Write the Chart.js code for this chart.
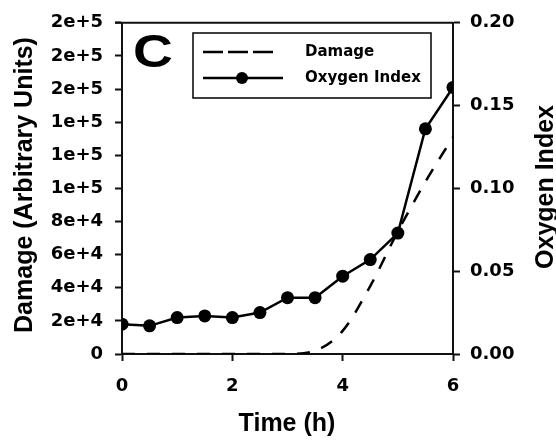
<!DOCTYPE html>
<html>
<head>
<meta charset="utf-8">
<script src="https://cdn.jsdelivr.net/npm/chart.js@4"></script>
<style>
  body { margin: 0; background: #fff; }
  canvas { display: block; }
</style>
</head>
<body>
<canvas id="chart" width="556" height="440"></canvas>
<script>
const times = [0, 0.5, 1, 1.5, 2, 2.5, 3, 3.5, 4, 4.5, 5, 5.5, 6];
const damage = [0, 0, 0, 0, 0, 0, 0, 2000, 14000, 41000, 74000, 104000, 131000];
const oxygenIndex = [0.018, 0.017, 0.022, 0.023, 0.022, 0.025, 0.034, 0.034, 0.047, 0.057, 0.073, 0.136, 0.161];
const damageTicks = ["0", "2e+4", "4e+4", "6e+4", "8e+4", "1e+5", "1e+5", "1e+5", "2e+5", "2e+5", "2e+5"];
const seriesLabels = ["Damage", "Oxygen Index"];

const tickFont = { family: "DejaVu Sans", weight: "bold", size: 18 };
const titleFont = "bold 25px 'Liberation Sans', Arial, sans-serif";

// frame line, panel letter, legend and axis titles
const extras = {
    id: "extras",
    afterDraw(chart) {
        const ctx = chart.ctx;
        const a = chart.chartArea;
        ctx.save();

        ctx.strokeStyle = "#111";
        ctx.lineWidth = 2;
        ctx.beginPath();
        ctx.moveTo(a.left - 7, a.top);
        ctx.lineTo(a.right, a.top);
        ctx.stroke();

        ctx.fillStyle = "#000";
        ctx.textAlign = "center";
        ctx.textBaseline = "middle";
        ctx.save();
        ctx.translate(153, 52);
        ctx.scale(1.2, 1);
        ctx.font = "bold 46px 'Liberation Sans', Arial, sans-serif";
        ctx.fillText("C", 0, 2);
        ctx.restore();

        // legend
        ctx.lineWidth = 1.5;
        ctx.strokeStyle = "#000";
        ctx.strokeRect(193, 33, 238, 65);
        ctx.font = "bold 15px 'DejaVu Sans', sans-serif";
        ctx.textAlign = "left";
        const ds = chart.data.datasets;
        const rows = [52, 78];
        rows.forEach((y, i) => {
            ctx.lineWidth = ds[i].borderWidth;
            ctx.setLineDash(i === 0 ? [20, 5] : []);
            ctx.beginPath();
            ctx.moveTo(203, y);
            ctx.lineTo(i === 0 ? 278 : 283, y);
            ctx.stroke();
            ctx.setLineDash([]);
            if (i === 1) {
                ctx.beginPath();
                ctx.arc(242, y, 6, 0, Math.PI * 2);
                ctx.fill();
            }
            ctx.fillText(ds[i].label, 305, y);
        });

        // axis titles
        ctx.font = titleFont;
        ctx.textAlign = "center";
        ctx.fillText("Time (h)", 287, 424);
        ctx.save();
        ctx.translate(25, 185);
        ctx.rotate(-Math.PI / 2);
        ctx.fillText("Damage (Arbitrary Units)", 0, 0);
        ctx.restore();
        ctx.save();
        ctx.translate(546, 187);
        ctx.rotate(-Math.PI / 2);
        ctx.fillText("Oxygen Index", 0, 0);
        ctx.restore();

        ctx.restore();
    }
};

const axisGrid = { drawOnChartArea: false, tickLength: 7, color: "#111", tickWidth: 2 };
const axisBorder = { color: "#111", width: 2 };

new Chart(document.getElementById("chart"), {
    type: "line",
    data: {
        datasets: [
            {
                label: seriesLabels[0],
                data: times.map((t, i) => ({ x: t, y: damage[i] })),
                yAxisID: "y",
                borderColor: "#000",
                borderWidth: 2.5,
                borderDash: [13, 12],
                pointRadius: 0,
                cubicInterpolationMode: "monotone",
                fill: false
            },
            {
                label: seriesLabels[1],
                data: times.map((t, i) => ({ x: t, y: oxygenIndex[i] })),
                yAxisID: "y2",
                borderColor: "#000",
                backgroundColor: "#000",
                borderWidth: 2.5,
                pointRadius: 6.5,
                pointBackgroundColor: "#000",
                pointBorderWidth: 0,
                tension: 0,
                fill: false
            }
        ]
    },
    options: {
        responsive: false,
        animation: false,
        layout: { padding: { top: 22, right: 0, left: 0, bottom: 0 } },
        plugins: { legend: { display: false }, tooltip: { enabled: false } },
        scales: {
            x: {
                type: "linear",
                min: 0,
                max: 6,
                ticks: { stepSize: 2, font: tickFont, color: "#000", padding: 15 },
                grid: axisGrid,
                border: axisBorder,
                afterFit(scale) { scale.height = 86; }
            },
            y: {
                position: "left",
                min: 0,
                max: 200000,
                ticks: {
                    stepSize: 20000,
                    font: tickFont,
                    color: "#000",
                    padding: 12,
                    callback: (v, i) => damageTicks[i]
                },
                grid: axisGrid,
                border: axisBorder,
                afterFit(scale) { scale.width = 122; }
            },
            y2: {
                position: "right",
                min: 0,
                max: 0.2,
                ticks: {
                    stepSize: 0.05,
                    font: tickFont,
                    color: "#000",
                    padding: 10,
                    callback: v => v.toFixed(2)
                },
                grid: axisGrid,
                border: axisBorder,
                afterFit(scale) { scale.width = 103; }
            }
        }
    },
    plugins: [extras]
});
</script>
</body>
</html>
